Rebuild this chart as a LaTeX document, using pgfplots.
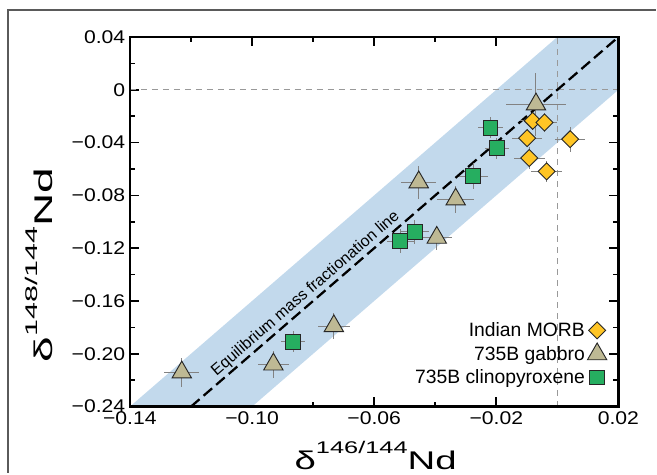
\documentclass[border=0pt]{standalone}
\usepackage{fontspec}
\setmainfont{Liberation Sans}
\usepackage{graphicx}
\usepackage{pgfplots}
\pgfplotsset{compat=1.18}
\usepackage{pgfplotstable}
\definecolor{band}{RGB}{194,217,236}
\definecolor{gold}{RGB}{255,197,37}
\definecolor{khaki}{RGB}{190,185,148}
\definecolor{grn}{RGB}{38,174,96}
\definecolor{errg}{RGB}{130,130,130}
\definecolor{framec}{RGB}{90,90,90}

\pgfplotstableread{
x y ex ey
-0.0081 -0.0235 0.004 0.007
-0.0042 -0.0248 0.004 0.007
-0.0099 -0.0366 0.005 0.007
0.0042 -0.0374 0.005 0.0095
-0.0092 -0.0517 0.005 0.008
-0.0035 -0.0618 0.005 0.008
}\morb

\pgfplotstableread{
x y ex ey
-0.0070 -0.0110 0.0098 0.024
-0.0454 -0.0700 0.0057 0.0126
-0.0333 -0.0830 0.0060 0.0100
-0.0395 -0.1120 0.0050 0.0090
-0.0732 -0.1790 0.0053 0.0100
-0.0930 -0.2080 0.0052 0.0100
-0.1230 -0.2140 0.0057 0.0110
}\gabbro

\pgfplotstableread{
x y ex ey
-0.0219 -0.0286 0.0040 0.0080
-0.0198 -0.0442 0.0040 0.0080
-0.0275 -0.0654 0.0047 0.0100
-0.0467 -0.1077 0.0045 0.0090
-0.0514 -0.1148 0.0045 0.0090
-0.0865 -0.1910 0.0040 0.0080
}\cpx

\newcommand{\dlab}[1]{{\fontsize{19.2}{20}\selectfont δ\raisebox{11.8pt}{\fontsize{12.7}{13}\selectfont #1}Nd}}
\newcommand{\tl}[1]{\scalebox{1.15}[1]{#1}}

\pgfplotsset{
  errs/.style={error bars/.cd, x dir=both, y dir=both, x explicit, y explicit,
    error mark=none, error bar style={errg, line width=0.75pt}, /pgfplots/.cd},
  dmk/.style={only marks, mark=square*, mark size=4.5pt, mark options={rotate=45, fill=gold, draw=black!85, line width=0.7pt}},
  tmk/.style={only marks, mark=triangle*, mark size=8.4pt, mark options={fill=khaki, draw=black!85, line width=0.7pt}},
  smk/.style={only marks, mark=square*, mark size=5.6pt, mark options={fill=grn, draw=black!85, line width=0.7pt}},
}

\begin{document}
\begin{tikzpicture}
\path (0,0) rectangle (492.75pt,356.25pt);
\draw[line width=0.9pt, framec] (6pt,1.5pt) -- (6pt,348.75pt) -- (492.75pt,348.75pt);
\begin{axis}[at={(97.5pt,51pt)}, anchor=south west, scale only axis,
  width=366.75pt, height=277.5pt,
  xmin=-0.14, xmax=0.02, ymin=-0.24, ymax=0.04,
  clip=false,
  xtick pos=both, ytick pos=both, tick align=inside,
  every tick/.style={black, line width=1.3pt},
  major tick length=7pt, minor tick length=3.75pt,
  xtick={-0.14,-0.10,-0.06,-0.02,0.02},
  minor xtick={-0.12,-0.08,-0.04,0},
  xticklabels={\tl{−0.14},\tl{−0.10},\tl{−0.06},\tl{−0.02},\tl{0.02}},
  ytick={-0.24,-0.20,-0.16,-0.12,-0.08,-0.04,0,0.04},
  minor ytick={-0.22,-0.18,-0.14,-0.10,-0.06,-0.02,0.02},
  yticklabels={\tl{−0.24},\tl{−0.20},\tl{−0.16},\tl{−0.12},\tl{−0.08},\tl{−0.04},\tl{0},\tl{0.04}},
  ticklabel style={font=\fontsize{13.8}{14}\selectfont},
  legend plot pos=right, legend cell align=right,
  legend style={at={(0.985,0.042)}, anchor=south east, draw=none, fill=none,
    font=\fontsize{14.5}{16}\selectfont, row sep=1.5pt},
]
\addplot[fill=band, draw=none, forget plot] coordinates {(-0.14,-0.24) (-0.10,-0.24) (0.02,0.0) (0.02,0.04) (0,0.04)} -- cycle;
\addplot[gray!80, line width=0.8pt, dash pattern=on 4.5pt off 3.75pt, forget plot] coordinates {(-0.14,0) (0.02,0)};
\addplot[gray!80, line width=0.8pt, dash pattern=on 4.5pt off 3.75pt, forget plot] coordinates {(0,-0.24) (0,0.04)};
\addplot[black, line width=1.7pt, dash pattern=on 8.5pt off 4pt, forget plot] coordinates {(-0.12,-0.24) (0.02,0.04)};
\node[rotate=40.85, font=\fontsize{12}{13}\selectfont] at (axis cs:-0.0824,-0.1544) {Equilibrium mass fractionation line};
\addplot[forget plot, tmk, errs] table[x=x, y=y, x error=ex, y error=ey] {\gabbro};
\addplot[forget plot, smk, errs] table[x=x, y=y, x error=ex, y error=ey] {\cpx};
\addplot[dmk, errs] table[x=x, y=y, x error=ex, y error=ey] {\morb};
\addlegendentry{Indian MORB}
\addlegendimage{tmk}
\addlegendentry{735B gabbro}
\addlegendimage{smk}
\addlegendentry{735B clinopyroxene}
\draw[line width=1.9pt, line join=miter] (rel axis cs:0,0) rectangle (rel axis cs:1,1);
\end{axis}
\node[anchor=base] at (282pt,3.75pt) {\scalebox{1.5}[1]{\dlab{146/144}}};
\node[anchor=base, rotate=90] at (39.75pt,157.5pt) {\scalebox{1.8}[1]{\dlab{148/144}}};
\end{tikzpicture}
\end{document}
